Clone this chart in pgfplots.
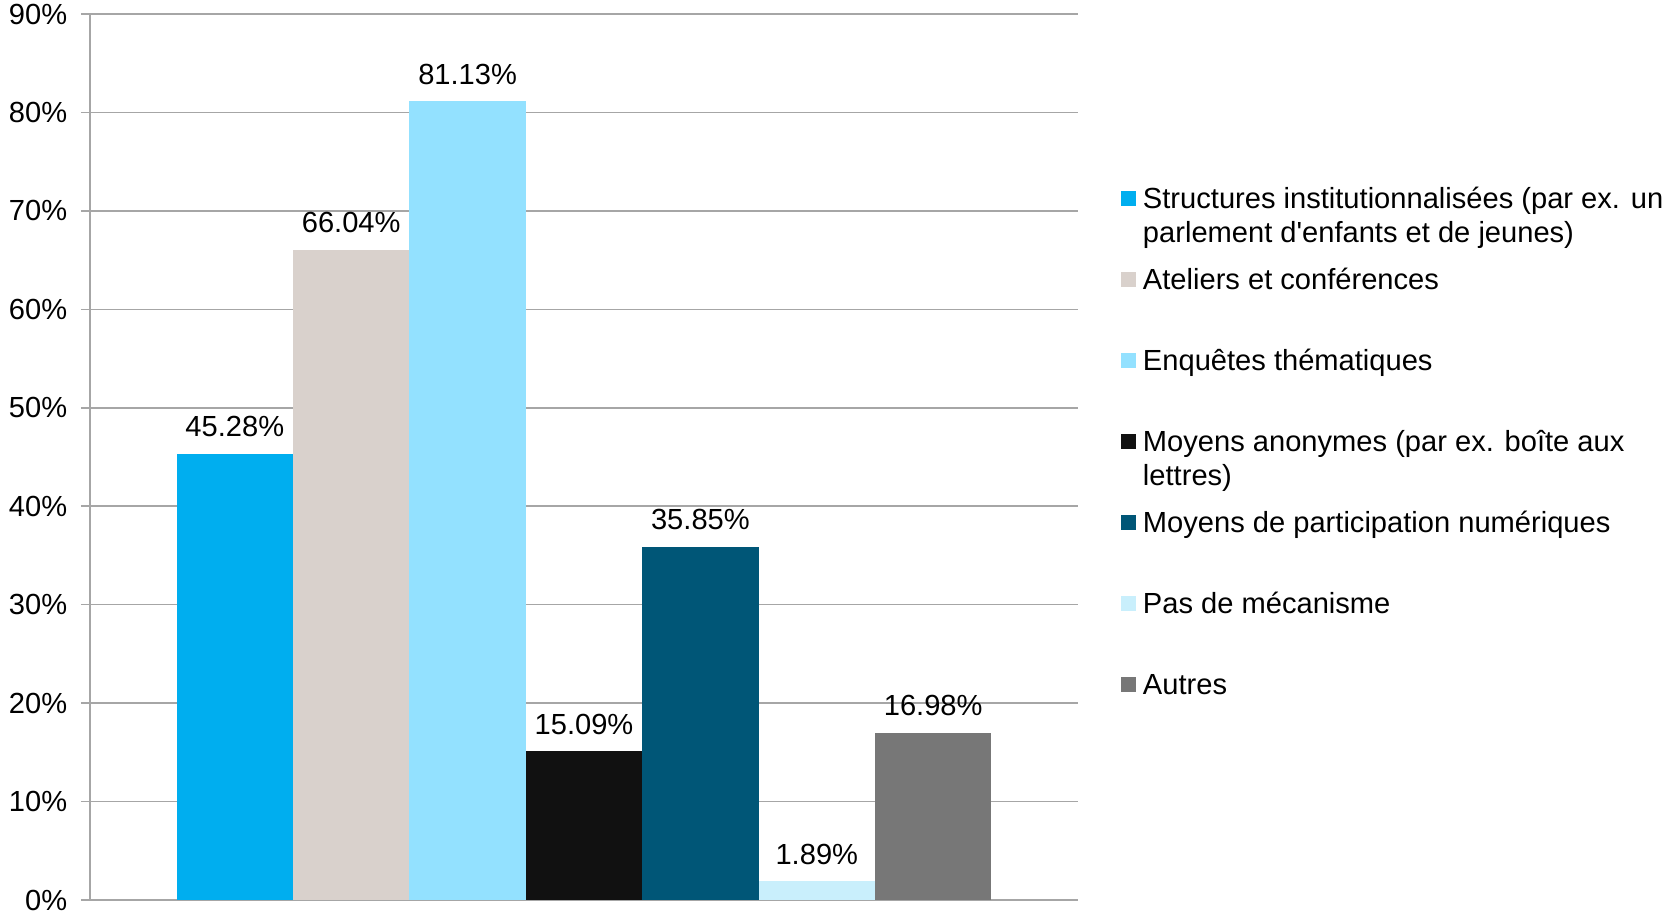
\documentclass[border=0pt]{standalone}
\usepackage{fontspec}
\setmainfont{Liberation Sans}
\usepackage{pgfplots}
\pgfplotsset{compat=1.18}

\definecolor{gridc}{RGB}{166,166,166}
\definecolor{cA}{RGB}{0,174,239}
\definecolor{cB}{RGB}{217,209,204}
\definecolor{cC}{RGB}{147,225,255}
\definecolor{cD}{RGB}{17,17,17}
\definecolor{cE}{RGB}{0,86,119}
\definecolor{cF}{RGB}{201,239,252}
\definecolor{cG}{RGB}{119,119,119}

\pgfplotsset{
  mybar/.style={ybar, bar width=1, bar shift=0pt, draw=none, fill=#1,
    legend image code/.code={\fill[#1] (0pt,1.2pt) rectangle (7.5pt,8.7pt);}},
}
\newcommand{\lentry}[1]{\parbox[t]{320pt}{\raggedright #1}}
\newcommand{\chartfont}{\fontsize{14.55}{17}\selectfont}

\begin{document}
\begin{tikzpicture}
\useasboundingbox (-45pt,-7pt) rectangle (787.5pt,450pt);
\begin{axis}[
  at={(0pt,0pt)}, anchor=south west,
  scale only axis, width=494pt, height=443pt,
  xmin=-0.244, xmax=8.244,
  ymin=0, ymax=90,
  xtick=\empty,
  ytick={0,10,...,90},
  yticklabel={\pgfmathprintnumber{\tick}\%},
  yticklabel style={font=\chartfont, inner sep=0pt, anchor=east, xshift=-6.7pt},
  /pgf/number format/assume math mode=true,
  axis lines*=left,
  axis line style={gridc, line width=0.75pt},
  ymajorgrids,
  grid style={gridc, line width=0.75pt},
  tick align=outside,
  major tick length=4.5pt,
  tick style={gridc, line width=0.75pt},
  nodes near coords={\pgfmathprintnumber[fixed,fixed zerofill,precision=2]{\pgfplotspointmeta}\%},
  every node near coord/.append style={font=\chartfont, text=black, inner sep=0pt, anchor=south, yshift=8.3pt},
  legend cell align=left,
  legend style={at={(1.0435,0.8046)}, anchor=north west, draw=none, fill=none,
    inner sep=0pt, outer sep=0pt, row sep=0pt, column sep=3.5pt,
    font=\chartfont,
    nodes={inner sep=0pt, text height=10.5pt, text depth=30pt},
    cells={anchor=base west}},
]
\addplot[mybar=cA] coordinates {(1,45.28)};
\addlegendentry{\lentry{Structures institutionnalisées (par ex. un\\parlement d\textquotesingle enfants et de jeunes)}}
\addplot[mybar=cB] coordinates {(2,66.04)};
\addlegendentry{\lentry{Ateliers et conférences}}
\addplot[mybar=cC] coordinates {(3,81.13)};
\addlegendentry{\lentry{Enquêtes thématiques}}
\addplot[mybar=cD] coordinates {(4,15.09)};
\addlegendentry{\lentry{Moyens anonymes (par ex. boîte aux\\lettres)}}
\addplot[mybar=cE] coordinates {(5,35.85)};
\addlegendentry{\lentry{Moyens de participation numériques}}
\addplot[mybar=cF] coordinates {(6,1.89)};
\addlegendentry{\lentry{Pas de mécanisme}}
\addplot[mybar=cG] coordinates {(7,16.98)};
\addlegendentry{\lentry{Autres}}
\end{axis}
\end{tikzpicture}
\end{document}
